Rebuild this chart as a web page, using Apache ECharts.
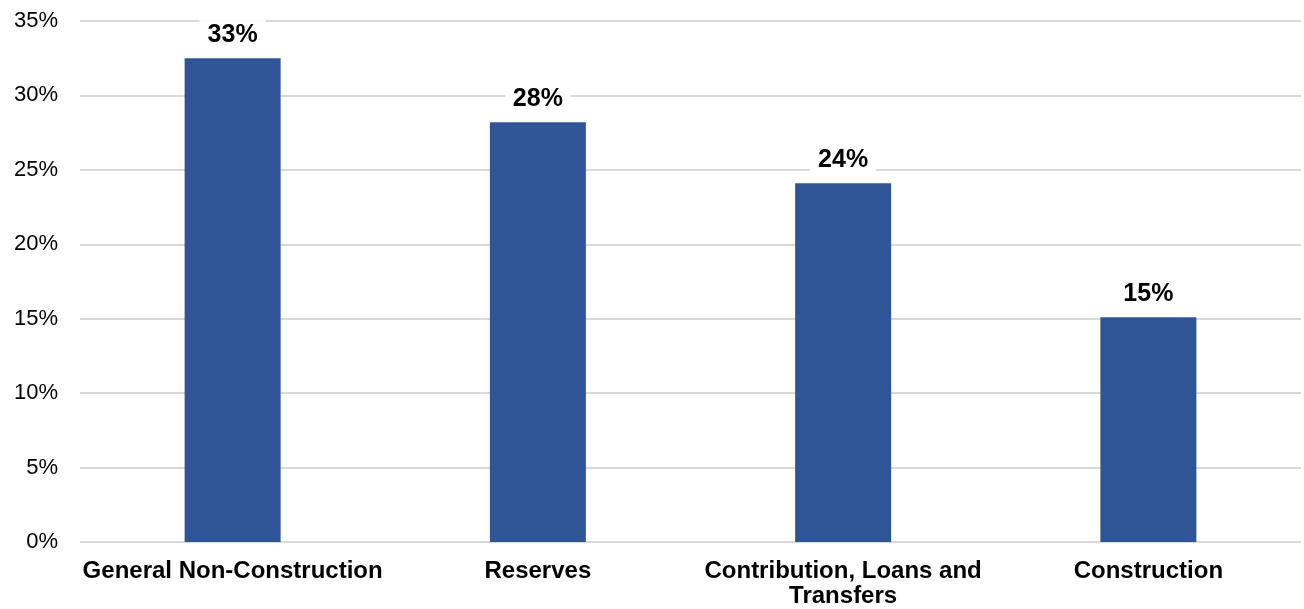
<!DOCTYPE html>
<html>
<head>
<meta charset="utf-8">
<script src="https://cdn.jsdelivr.net/npm/echarts@6/dist/echarts.min.js"></script>
<style>
  html, body { margin: 0; padding: 0; background: #fff; }
  #main { width: 1304px; height: 609px; }
</style>
</head>
<body>
<div id="main"></div>
<script>
const categories = ['General Non-Construction', 'Reserves', 'Contribution, Loans and\nTransfers', 'Construction'];
const shares = [32.5, 28.2, 24.1, 15.1];
const yTicks = [0, 5, 10, 15, 20, 25, 30, 35];

window.onload = function () {
  const chart = echarts.init(document.getElementById('main'));
  const font = '"Liberation Sans", Arial, sans-serif';
  const option = {
    animation: false,
    grid: { left: 80, right: 3, top: 21, bottom: 66 },
    xAxis: {
      type: 'category',
      data: categories,
      axisLine: { show: false },
      axisTick: { show: false },
      axisLabel: {
        margin: 17,
        color: '#000',
        fontFamily: font,
        fontSize: 24,
        fontWeight: 'bold',
        lineHeight: 25,
        interval: 0
      }
    },
    yAxis: {
      type: 'value',
      min: yTicks[0],
      max: yTicks[yTicks.length - 1],
      interval: 5,
      axisLine: { show: false },
      axisTick: { show: false },
      axisLabel: {
        margin: 22,
        color: '#000',
        fontFamily: font,
        fontSize: 22,
        formatter: v => v + '%'
      },
      splitLine: { lineStyle: { color: '#d9d9d9', width: 2 } }
    },
    series: [{
      type: 'bar',
      data: shares,
      barWidth: 96,
      itemStyle: { color: '#2f5597' },
      label: {
        show: true,
        position: 'top',
        distance: 9,
        color: '#000',
        fontFamily: font,
        fontSize: 25,
        fontWeight: 'bold',
        backgroundColor: '#fff',
        padding: [2, 8],
        formatter: p => Math.round(p.value) + '%'
      }
    }]
  };
  chart.setOption(option);
};
</script>
</body>
</html>
